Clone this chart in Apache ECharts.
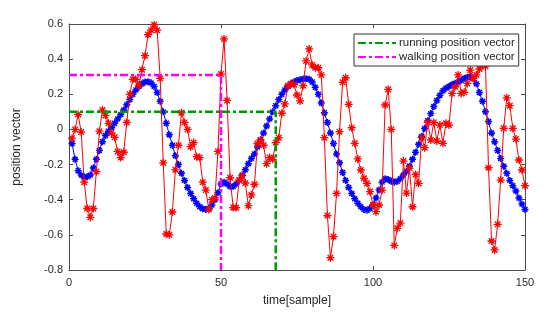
<!DOCTYPE html>
<html>
<head>
<meta charset="utf-8">
<script src="https://cdn.jsdelivr.net/npm/echarts@6/dist/echarts.min.js"></script>
<style>
html,body{margin:0;padding:0;background:#fff;}
#chart{width:550px;height:321px;}
</style>
</head>
<body>
<div id="chart"></div>
<script>
// ---- data ----
const xTicks = [0, 50, 100, 150];
const yTicks = [-0.8, -0.6, -0.4, -0.2, 0, 0.2, 0.4, 0.6];

// smooth (blue) position vector, samples 1..150
const blueValues = [
 -0.08,-0.17,-0.235,-0.26,-0.27,-0.27,-0.26,-0.22,-0.17,-0.12,
 -0.07,-0.035,-0.01,0.01,0.035,0.06,0.085,0.11,0.14,0.17,
 0.2,0.225,0.245,0.26,0.27,0.272,0.265,0.245,0.21,0.16,
 0.1,0.035,-0.03,-0.09,-0.15,-0.2,-0.25,-0.29,-0.33,-0.365,
 -0.395,-0.42,-0.44,-0.452,-0.455,-0.45,-0.43,-0.4,-0.36,-0.31,
 -0.3,-0.31,-0.325,-0.325,-0.31,-0.29,-0.26,-0.23,-0.195,-0.165,
 -0.14,-0.1,-0.06,-0.02,0.02,0.06,0.1,0.135,0.17,0.2,
 0.225,0.245,0.26,0.27,0.278,0.283,0.287,0.288,0.285,0.27,
 0.24,0.2,0.15,0.095,0.04,-0.02,-0.08,-0.14,-0.19,-0.245,
 -0.29,-0.33,-0.365,-0.395,-0.42,-0.44,-0.455,-0.46,-0.45,-0.43,
 -0.39,-0.345,-0.3,-0.28,-0.285,-0.295,-0.3,-0.295,-0.28,-0.26,
 -0.24,-0.21,-0.17,-0.13,-0.085,-0.04,0.005,0.05,0.09,0.13,
 0.165,0.195,0.22,0.235,0.245,0.255,0.262,0.27,0.28,0.29,
 0.297,0.3,0.29,0.26,0.21,0.16,0.1,0.045,-0.02,-0.07,
 -0.12,-0.165,-0.21,-0.25,-0.29,-0.32,-0.35,-0.39,-0.425,-0.455
];

// noisy (red) position vector, samples 1..150
const redValues = [
 -0.05,0.0,0.085,-0.015,-0.30,-0.45,-0.50,-0.45,-0.24,-0.01,
 0.11,0.08,0.035,-0.02,-0.045,-0.125,-0.16,-0.13,0.04,0.20,
 0.285,0.285,0.25,0.34,0.42,0.54,0.565,0.595,0.565,0.29,
 -0.19,-0.595,-0.60,-0.47,-0.23,-0.09,0.095,0.04,0.0,-0.098,
 -0.075,-0.155,-0.16,-0.30,-0.345,-0.455,-0.40,-0.39,-0.125,0.315,
 0.515,0.165,-0.275,-0.445,-0.445,-0.288,-0.263,-0.305,-0.434,-0.373,
 -0.312,-0.08,-0.06,-0.09,-0.195,-0.16,-0.17,-0.075,-0.047,0.092,
 0.145,0.249,0.26,0.255,0.196,0.162,0.249,0.39,0.458,0.367,
 0.351,0.351,0.31,-0.047,-0.49,-0.73,-0.61,-0.364,-0.013,0.268,
 0.294,0.143,0.01,-0.079,-0.168,-0.231,-0.278,-0.307,-0.354,-0.43,
 -0.468,-0.43,-0.345,0.139,0.228,0.0,-0.66,-0.563,-0.533,-0.18,
 -0.362,-0.22,-0.44,-0.256,-0.307,-0.047,-0.104,0.04,-0.06,0.04,
 -0.066,0.025,-0.079,0.035,0.025,0.205,0.243,0.31,0.205,0.211,
 0.262,0.338,0.29,0.31,0.344,0.37,0.36,-0.218,-0.635,-0.686,
 -0.54,-0.288,0.006,0.18,0.135,0.006,-0.055,-0.174,-0.231,-0.32
];

// reference lines
const runningX = [0, 68, 68];
const runningY = [0.1, 0.1, -0.8];
const walkingX = [0, 50, 50];
const walkingY = [0.31, 0.31, -0.8];

const seriesNames = ['running position vector', 'walking position vector'];

// ---- chart ----
const pair = (xs, ys) => xs.map((x, i) => [x, ys[i]]);
const indexed = vals => vals.map((v, i) => [i + 1, v]);

const asterisk = 'path://M0,5L10,5M5,0L5,10M1.5,1.5L8.5,8.5M8.5,1.5L1.5,8.5';
const axisColor = '#4d4d4d';
const textColor = '#262626';
const font = 'Liberation Sans, Arial, sans-serif';

function xAx(pos) {
  return {
    type: 'value', position: pos, min: 0, max: 150, interval: 50,
    axisLine: { show: true, onZero: false, lineStyle: { color: axisColor, width: 1 } },
    axisTick: { show: true, inside: true, length: 4, lineStyle: { color: axisColor } },
    axisLabel: { show: pos === 'bottom', color: textColor, fontSize: 11, fontFamily: font, margin: 7 },
    splitLine: { show: false },
    name: pos === 'bottom' ? 'time[sample]' : '',
    nameLocation: 'middle', nameGap: 25,
    nameTextStyle: { color: textColor, fontSize: 12, fontFamily: font }
  };
}
function yAx(pos) {
  return {
    type: 'value', position: pos, min: -0.8, max: 0.6, interval: 0.2,
    axisLine: { show: true, onZero: false, lineStyle: { color: axisColor, width: 1 } },
    axisTick: { show: true, inside: true, length: 4, lineStyle: { color: axisColor } },
    axisLabel: { show: pos === 'left', color: textColor, fontSize: 11, fontFamily: font, margin: 6,
      formatter: v => String(Math.round(v * 10) / 10) },
    splitLine: { show: false },
    name: pos === 'left' ? 'position vector' : '',
    nameLocation: 'middle', nameGap: 46,
    nameTextStyle: { color: textColor, fontSize: 12, fontFamily: font }
  };
}

const chart = echarts.init(document.getElementById('chart'), null, { renderer: 'canvas' });
chart.setOption({
  animation: false,
  backgroundColor: '#fff',
  grid: { left: 69, right: 25, top: 24, bottom: 51, containLabel: false },
  xAxis: [xAx('bottom'), xAx('top')],
  yAxis: [yAx('left'), yAx('right')],
  legend: {
    data: seriesNames,
    orient: 'vertical', left: 354, top: 34,
    backgroundColor: '#fff', borderColor: '#333', borderWidth: 1,
    padding: [3, 4, 3, 3], itemGap: 2, itemWidth: 38, itemHeight: 12,
    itemStyle: { opacity: 0 },
    textStyle: { color: textColor, fontSize: 11.5, fontFamily: font, padding: [0, 0, 0, -2] }
  },
  series: [
    {
      name: 'smooth', type: 'line', data: indexed(blueValues),
      symbol: asterisk, symbolSize: 7, showAllSymbol: true,
      lineStyle: { color: '#0000ff', width: 1 },
      itemStyle: { color: 'rgba(0,0,0,0)', borderColor: '#0000ff', borderWidth: 1.5 },
      z: 2
    },
    {
      name: 'noisy', type: 'line', data: indexed(redValues),
      symbol: asterisk, symbolSize: 8, showAllSymbol: true,
      lineStyle: { color: '#ff0000', width: 1 },
      itemStyle: { color: 'rgba(0,0,0,0)', borderColor: '#ff0000', borderWidth: 1.3 },
      z: 3
    },
    {
      name: seriesNames[0], type: 'line', data: pair(runningX, runningY),
      symbol: 'none', color: '#009900',
      lineStyle: { color: '#009900', width: 2.5, type: [8, 3, 3, 3] },
      z: 4
    },
    {
      name: seriesNames[1], type: 'line', data: pair(walkingX, walkingY),
      symbol: 'none', color: '#ff00ff',
      lineStyle: { color: '#ff00ff', width: 2.5, type: [8, 3, 3, 3] },
      z: 4
    }
  ]
});
</script>
</body>
</html>
